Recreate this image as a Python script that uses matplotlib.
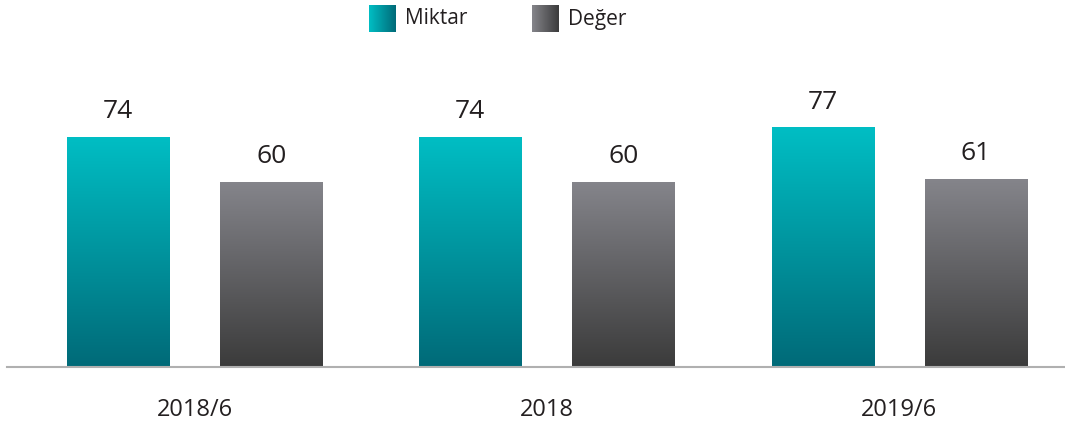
import numpy as np
import matplotlib
matplotlib.use("Agg")
import matplotlib.pyplot as plt
from matplotlib.colors import LinearSegmentedColormap

plt.rcParams['font.family'] = ['Open Sans', 'DejaVu Sans']

categories = ["2018/6", "2018", "2019/6"]
miktar = [74, 74, 77]
deger = [60, 60, 61]
series_names = ["Miktar", "Değer"]

teal_cmap = LinearSegmentedColormap.from_list("teal", ["#006A78", "#00BEC4"])
gray_cmap = LinearSegmentedColormap.from_list("gray", ["#3B3B3B", "#85858B"])

W, H = 1065, 426
fig = plt.figure(figsize=(W / 100, H / 100), dpi=100)
ax = fig.add_axes([7 / W, 59 / H, 1058 / W, 367 / H])

x = np.arange(len(categories))
off = 0.2175
bw = 0.29
YLIM = (2.5, 2.5 + 114)

grad = np.linspace(0, 1, 256).reshape(-1, 1)

def grad_bars(xs, vals, cmap):
    bars = ax.bar(xs, vals, width=bw, color="none", edgecolor="none")
    for b in bars:
        x0, y0 = b.get_x(), b.get_y()
        w, h = b.get_width(), b.get_height()
        im = ax.imshow(grad, cmap=cmap, origin="lower", aspect="auto",
                       extent=[x0, x0 + w, YLIM[0], y0 + h], zorder=2)
        im.set_clip_path(b)
        ax.annotate(f"{b.get_height():g}", (x0 + w / 2, y0 + h),
                    xytext=(0, 9), textcoords="offset points",
                    ha="center", va="bottom", fontsize=19, color="#231F20")
    return bars

grad_bars(x - off, miktar, teal_cmap)
grad_bars(x + off, deger, gray_cmap)
ax.set_xlim(-0.532, 2.47)
ax.set_ylim(*YLIM)

for s in ["top", "right", "left"]:
    ax.spines[s].set_visible(False)
ax.spines["bottom"].set_color("#B0B0B0")
ax.spines["bottom"].set_linewidth(1.5)
ax.set_yticks([])
ax.set_xticks(x)
ax.set_xticklabels(categories, fontsize=17, color="#231F20")
ax.tick_params(axis="x", length=0, pad=22)

# legend
hgrad = np.linspace(0, 1, 256).reshape(1, -1)
leg = [(369, teal_cmap, series_names[0]), (532, gray_cmap, series_names[1])]
for px, cmap, name in leg:
    lax = fig.add_axes([px / W, 1 - 32 / H, 27 / W, 27 / H])
    lax.imshow(hgrad[:, ::-1], cmap=cmap, aspect="auto")
    lax.axis("off")
    fig.text((px + 36) / W, 1 - 19 / H, name, ha="left", va="center",
             fontsize=15, color="#231F20")

fig.savefig("out.png", dpi=100)
